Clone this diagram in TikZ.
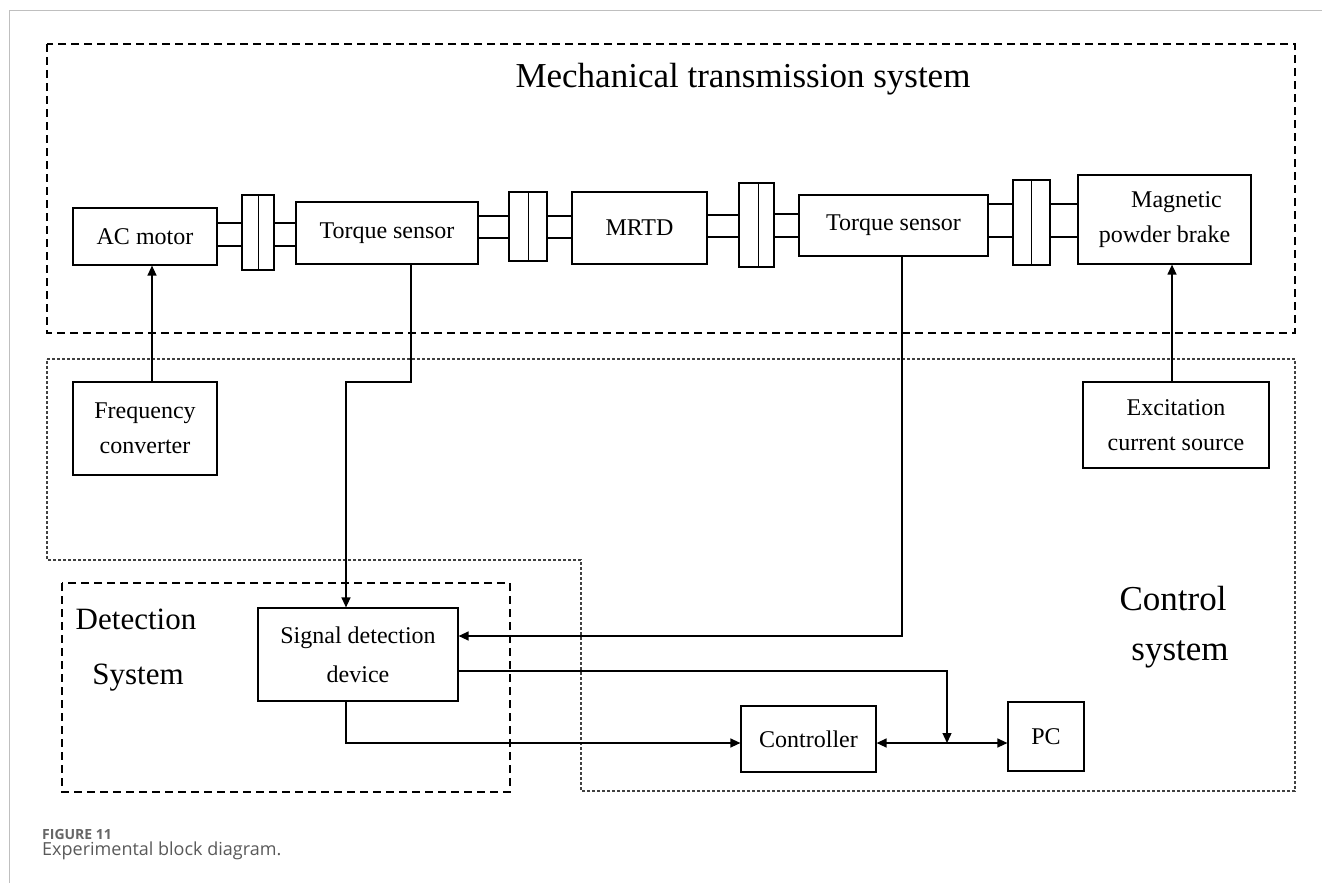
\documentclass[tikz,border=0pt]{standalone}
\usepackage{fontspec}
\setmainfont{Liberation Serif}
\newfontfamily\capfont{Open Sans}
\usetikzlibrary{arrows.meta}
\begin{document}
\begin{tikzpicture}[x=1pt,y=-1pt,
  box/.style={draw=black, line width=1.2pt, rectangle, inner sep=0pt, align=center, font=\fontsize{24}{35}\selectfont},
  part/.style={draw=black, line width=1.9pt, rectangle, inner sep=0pt},
  divider/.style={draw=black, line width=1pt},
  conn/.style={draw=black, line width=1.3pt, -{Triangle[length=10pt,width=9pt]}},
  conn2/.style={draw=black, line width=1.3pt, {Triangle[length=10pt,width=9pt]}-{Triangle[length=10pt,width=9pt]}},
  bigdash/.style={draw=black, line width=1.8pt, dash pattern=on 8pt off 5pt},
  smalldot/.style={draw=black!75, line width=1.1pt, dash pattern=on 3pt off 2pt},
  lbl/.style={anchor=base, inner sep=0pt}
]
\useasboundingbox (0,0) rectangle (1322,883);
% page frame
\draw[black!25, line width=1pt] (9,883) -- (9,11) -- (1322,11);

% group outlines
\draw[bigdash] (47,44) rectangle (1295,333);
\draw[smalldot] (47,359) -- (1295,359) -- (1295,791) -- (581,791) -- (581,560) -- (47,560) -- cycle;
\draw[bigdash] (62,583) rectangle (510,792);

% titles
\node[lbl, font=\fontsize{35}{42}\selectfont] (title) at (743,87) {Mechanical transmission system};
\node[lbl, font=\fontsize{31}{36}\selectfont] (det1) at (136,629) {Detection};
\node[lbl, font=\fontsize{31}{36}\selectfont] (det2) at (138,684) {System};
\node[lbl, font=\fontsize{35}{40}\selectfont] (ctl1) at (1173,610) {Control};
\node[lbl, font=\fontsize{35}{40}\selectfont] (ctl2) at (1180,660) {system};

% main row
\node[box, minimum width=144pt, minimum height=57pt] (ac) at (145,236.5) {AC motor};
\node[part, minimum width=25pt, minimum height=23pt] (s1a) at (229.5,234.5) {};
\node[part, minimum width=22pt, minimum height=23pt] (s1b) at (285,234.5) {};
\node[part, minimum width=32pt, minimum height=75pt] (c1) at (258,232.5) {};
\draw[divider] (c1.north) -- (c1.south);
\node[box, minimum width=182pt, minimum height=62pt] (ts1) at (387,233) {Torque sensor};

\node[part, minimum width=31pt, minimum height=22pt] (s2a) at (493.5,227) {};
\node[part, minimum width=25pt, minimum height=22pt] (s2b) at (559.5,227) {};
\node[part, minimum width=38pt, minimum height=69pt] (c2) at (528,226.5) {};
\draw[divider] (c2.north) -- (c2.south);
\node[box, minimum width=135pt, minimum height=72pt] (mrtd) at (639.5,228) {MRTD};

\node[part, minimum width=32pt, minimum height=22pt] (s3a) at (723,226) {};
\node[part, minimum width=25pt, minimum height=23pt] (s3b) at (786.5,225.5) {};
\node[part, minimum width=35pt, minimum height=84pt] (c3) at (756.5,225) {};
\draw[divider] ([xshift=2pt]c3.north) -- ([xshift=2pt]c3.south);
\node[box, minimum width=189pt, minimum height=61pt] (ts2) at (893.5,225.5) {Torque sensor};

\node[part, minimum width=25pt, minimum height=33pt] (s4a) at (1000.5,220.5) {};
\node[part, minimum width=28pt, minimum height=33pt] (s4b) at (1064,220.5) {};
\node[part, minimum width=37pt, minimum height=85pt] (c4) at (1031.5,222.5) {};
\draw[divider] (c4.north) -- (c4.south);
\node[box, minimum width=173pt, minimum height=89pt] (brake) at (1164.5,219.5) {\hspace*{24pt}Magnetic\\powder brake};

% lower boxes
\node[box, minimum width=144pt, minimum height=93pt] (freq) at (145,428.5) {Frequency\\converter};
\node[box, minimum width=186pt, minimum height=86pt] (exc) at (1176,425) {Excitation\\current source};
\node[box, minimum width=200pt, minimum height=93pt, font=\fontsize{24}{39}\selectfont] (sig) at (358,654.5) {Signal detection\\device};
\node[box, minimum width=135pt, minimum height=66pt] (ctrl) at (808.5,739) {Controller};
\node[box, minimum width=76pt, minimum height=69pt] (pc) at (1046,736.5) {PC};

% connectors
\coordinate (k1) at (346,382);
\coordinate (j) at (947,743);
\draw[conn] ([xshift=7pt]freq.north) -- ([xshift=7pt]ac.south);
\draw[conn] ([xshift=-4pt]exc.north) -- ([xshift=7.5pt]brake.south);
\draw[conn] ([xshift=24pt]ts1.south) |- (k1) -- ([xshift=-12pt]sig.north);
\draw[conn] ([xshift=8.5pt]ts2.south) |- ([yshift=18.5pt]sig.east);
\draw[conn] ([yshift=-16.5pt]sig.east) -| (j);
\draw[conn] ([xshift=-12pt]sig.south) |- (ctrl.west |- j);
\draw[conn2] (ctrl.east |- j) -- (pc.west |- j);

% caption
\node[anchor=base west, inner sep=0pt, font=\capfont\bfseries\fontsize{14}{18}\selectfont, text=black!60] (fig) at (42,839) {FIGURE 11};
\node[anchor=base west, inner sep=0pt, font=\capfont\fontsize{18}{22}\selectfont, text=black!65] (cap) at (42,855) {Experimental block diagram.};
\end{tikzpicture}
\end{document}
